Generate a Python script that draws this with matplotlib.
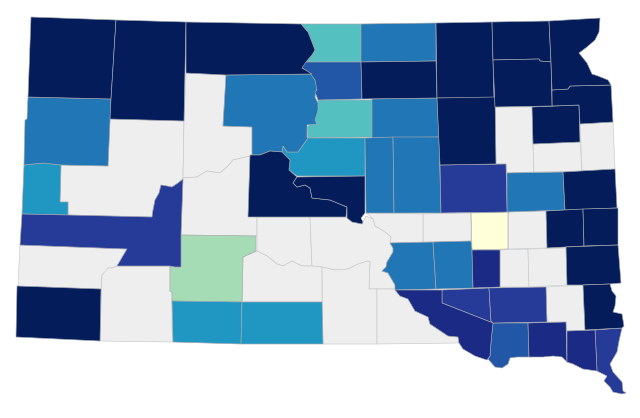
#!/usr/bin/env python3
import matplotlib
matplotlib.use("Agg")
import matplotlib.pyplot as plt
from matplotlib.patches import Polygon

class_colors = ["#eeeeee", "#ffffd9", "#a6dcb5", "#54c0c0", "#2097c2",
                "#2176b5", "#2157a6", "#263a98", "#1a2a85", "#051c5a"]
edge_colors = {0: "#c6c8ca"}
default_edge = "#a3a7ae"

county_classes = [
    9, 9, 9, 5, 0, 4, 5, 0, 0,
    9, 9, 4, 3, 6, 9, 5, 3, 5,
    5, 5, 9, 9, 7, 0, 9, 0, 0,
    9, 9, 9, 9, 5, 9, 9, 9, 0,
    1, 0, 0, 0, 8, 9,
    0, 0, 0, 0, 0, 0,
    5, 5, 7, 0, 0, 9, 4, 4, 2, 8, 7, 7, 6, 8, 8, 7, 9, 0,
]

# map geometry in picture pixels
county_outlines = [
    [(31, 17), (116, 20), (111, 99), (28, 97)],
    [(116, 20), (186, 22), (184, 121), (110, 119), (111, 99)],
    [(186, 22), (301, 24), (308, 32), (312, 42), (315, 50), (312, 55), (306, 62), (302, 68), (312, 74), (226, 75), (186, 73)],
    [(28, 97), (111, 99), (108, 166), (61, 165), (43, 163), (24, 165), (25, 120), (27, 119)],
    [(110, 119), (184, 121), (183, 179), (178, 183), (172, 187), (167, 186), (161, 185), (159, 193), (155, 200), (153, 210), (152, 217), (68, 215), (68, 202), (60, 202), (61, 165), (108, 166)],
    [(24, 165), (43, 163), (61, 165), (60, 202), (68, 202), (68, 215), (22, 214)],
    [(226, 75), (312, 74), (315, 80), (317, 88), (315, 97), (318, 103), (318, 110), (315, 120), (317, 124), (307, 125), (307, 137), (308, 138), (298, 152), (287, 152), (283, 146), (282, 152), (270, 151), (260, 155), (252, 155), (252, 127), (223, 126)],
    [(186, 73), (226, 75), (223, 126), (252, 127), (252, 155), (250, 156), (233, 160), (227, 167), (220, 173), (207, 171), (197, 177), (183, 178), (184, 121)],
    [(183, 178), (197, 177), (207, 171), (220, 173), (227, 167), (233, 160), (250, 156), (248, 216), (257, 217), (257, 236), (181, 235)],
    [(250, 155), (260, 155), (270, 151), (282, 152), (290, 160), (289, 170), (297, 177), (293, 183), (297, 187), (305, 185), (310, 188), (312, 198), (330, 200), (347, 207), (346, 217), (248, 217)],
    [(297, 177), (365, 176), (365, 213), (361, 218), (363, 222), (362, 224), (352, 222), (347, 218), (347, 207), (330, 200), (312, 198), (310, 188), (305, 185), (297, 187), (293, 183)],
    [(308, 138), (365, 138), (365, 176), (297, 176), (289, 170), (290, 160), (282, 152), (283, 146), (287, 152), (298, 152)],
    [(301, 24), (361, 24), (361, 62), (306, 62), (312, 55), (315, 50), (312, 42), (308, 32)],
    [(306, 62), (361, 62), (362, 99), (318, 100), (315, 92), (317, 90), (315, 80), (310, 73), (302, 68), (303, 63)],
    [(361, 62), (436, 61), (437, 98), (362, 99)],
    [(361, 24), (436, 23), (436, 61), (361, 62)],
    [(318, 100), (372, 100), (372, 137), (308, 138), (307, 127), (312, 123), (317, 123), (313, 118), (315, 112), (318, 107)],
    [(372, 99), (437, 98), (439, 137), (372, 138)],
    [(365, 138), (393, 137), (394, 213), (366, 213)],
    [(393, 137), (439, 137), (441, 213), (394, 213)],
    [(436, 23), (492, 22), (494, 98), (437, 98)],
    [(437, 98), (495, 97), (496, 164), (440, 165)],
    [(440, 165), (506, 164), (507, 212), (441, 213)],
    [(495, 107), (532, 107), (533, 144), (534, 172), (507, 173), (506, 164), (496, 164)],
    [(532, 107), (579, 105), (580, 142), (533, 144)],
    [(533, 144), (580, 142), (582, 171), (534, 172)],
    [(580, 124), (613, 122), (615, 169), (582, 171)],
    [(552, 90), (568, 89), (570, 86), (611, 85), (613, 122), (580, 124), (579, 105), (552, 106)],
    [(492, 22), (549, 21), (551, 62), (540, 61), (539, 59), (493, 60)],
    [(493, 60), (539, 59), (540, 61), (551, 62), (552, 106), (495, 107)],
    [(549, 21), (600, 18), (599, 32), (595, 40), (587, 47), (579, 53), (587, 63), (592, 74), (598, 76), (608, 80), (611, 85), (570, 86), (568, 89), (552, 90), (551, 62)],
    [(507, 173), (563, 172), (565, 210), (507, 212)],
    [(563, 172), (615, 169), (617, 208), (565, 210)],
    [(546, 211), (583, 209), (584, 246), (547, 248)],
    [(583, 209), (618, 208), (618, 245), (584, 246)],
    [(508, 212), (546, 211), (547, 248), (508, 249)],
    [(471, 213), (508, 212), (508, 249), (472, 250)],
    [(423, 214), (471, 213), (471, 241), (433, 242), (423, 242)],
    [(500, 250), (528, 249), (529, 287), (500, 287)],
    [(528, 249), (566, 248), (567, 285), (529, 287)],
    [(472, 250), (500, 250), (500, 287), (473, 288)],
    [(566, 247), (618, 245), (621, 283), (610, 284), (583, 285), (567, 285)],
    [(366, 213), (423, 214), (423, 242), (390, 243), (391, 237), (385, 232), (375, 226), (373, 219), (369, 215)],
    [(257, 217), (310, 217), (312, 266), (302, 266), (292, 261), (283, 266), (277, 264), (267, 256), (257, 251)],
    [(310, 217), (346, 217), (352, 222), (362, 224), (366, 216), (373, 219), (375, 226), (385, 232), (391, 237), (390, 243), (393, 248), (393, 252), (387, 262), (386, 267), (382, 271), (388, 273), (395, 285), (395, 289), (369, 289), (370, 262), (368, 261), (358, 264), (348, 269), (335, 270), (322, 267), (312, 266)],
    [(243, 257), (257, 251), (267, 256), (277, 264), (283, 266), (292, 261), (302, 266), (312, 266), (322, 267), (322, 302), (242, 302)],
    [(322, 267), (335, 270), (348, 269), (358, 264), (368, 261), (370, 262), (369, 289), (377, 289), (377, 344), (323, 344)],
    [(377, 289), (395, 289), (400, 296), (408, 299), (415, 311), (428, 317), (430, 324), (442, 332), (448, 336), (458, 337), (459, 343), (377, 344)],
    [(390, 243), (433, 242), (436, 289), (395, 290), (395, 285), (388, 273), (382, 271), (386, 267), (387, 262), (393, 252), (393, 248)],
    [(433, 242), (471, 241), (472, 250), (473, 288), (436, 289)],
    [(22, 214), (68, 215), (152, 217), (153, 210), (155, 200), (159, 193), (161, 185), (167, 186), (172, 187), (178, 183), (183, 179), (181, 235), (181, 267), (175, 267), (170, 266), (117, 266), (127, 249), (20, 245)],
    [(20, 245), (127, 249), (117, 266), (112, 268), (108, 268), (106, 273), (102, 275), (101, 289), (18, 286)],
    [(102, 275), (108, 268), (112, 268), (117, 266), (170, 266), (170, 291), (172, 292), (172, 329), (173, 342), (100, 341)],
    [(17, 286), (101, 289), (100, 341), (16, 337)],
    [(172, 301), (242, 302), (241, 344), (173, 342)],
    [(242, 302), (322, 302), (323, 344), (241, 344)],
    [(181, 235), (256, 236), (256, 251), (243, 257), (242, 302), (172, 301), (172, 292), (170, 291), (170, 266), (175, 267), (177, 268), (181, 266)],
    [(395, 290), (442, 290), (442, 303), (493, 323), (491, 342), (490, 356), (487, 360), (475, 356), (463, 349), (459, 343), (458, 337), (448, 336), (442, 332), (430, 324), (428, 317), (415, 311), (408, 299), (400, 296)],
    [(442, 290), (489, 288), (491, 321), (493, 323), (442, 303)],
    [(489, 288), (546, 287), (547, 322), (493, 323), (491, 321)],
    [(493, 323), (528, 323), (529, 357), (517, 357), (510, 358), (508, 364), (502, 368), (495, 367), (488, 359), (490, 356), (491, 342)],
    [(528, 323), (566, 322), (567, 362), (562, 357), (553, 356), (543, 357), (529, 357)],
    [(567, 331), (595, 330), (597, 371), (583, 369), (573, 364), (567, 362)],
    [(595, 330), (622, 328), (619, 341), (617, 352), (610, 364), (613, 372), (622, 382), (623, 391), (626, 393), (622, 394), (613, 392), (610, 387), (604, 381), (607, 376), (597, 371)],
    [(583, 285), (610, 284), (612, 291), (616, 296), (615, 306), (613, 312), (622, 314), (624, 326), (622, 328), (585, 330)],
    [(546, 287), (583, 285), (585, 331), (567, 331), (566, 322), (547, 322)],
]


def main():
    fig = plt.figure(figsize=(6.4, 4.18), dpi=100)
    ax = fig.add_axes([0, 0, 1, 1])
    ax.set_xlim(0, 640)
    ax.set_ylim(418, 0)
    ax.axis("off")
    # grey counties go first so their pale edges sit under the coloured ones
    for cls, outline in sorted(zip(county_classes, county_outlines), key=lambda item: item[0]):
        ax.add_patch(Polygon(outline, closed=True, facecolor=class_colors[cls],
                             edgecolor=edge_colors.get(cls, default_edge),
                             linewidth=0.45, joinstyle="round"))
    fig.savefig("out.png", dpi=100)


if __name__ == "__main__":
    main()
